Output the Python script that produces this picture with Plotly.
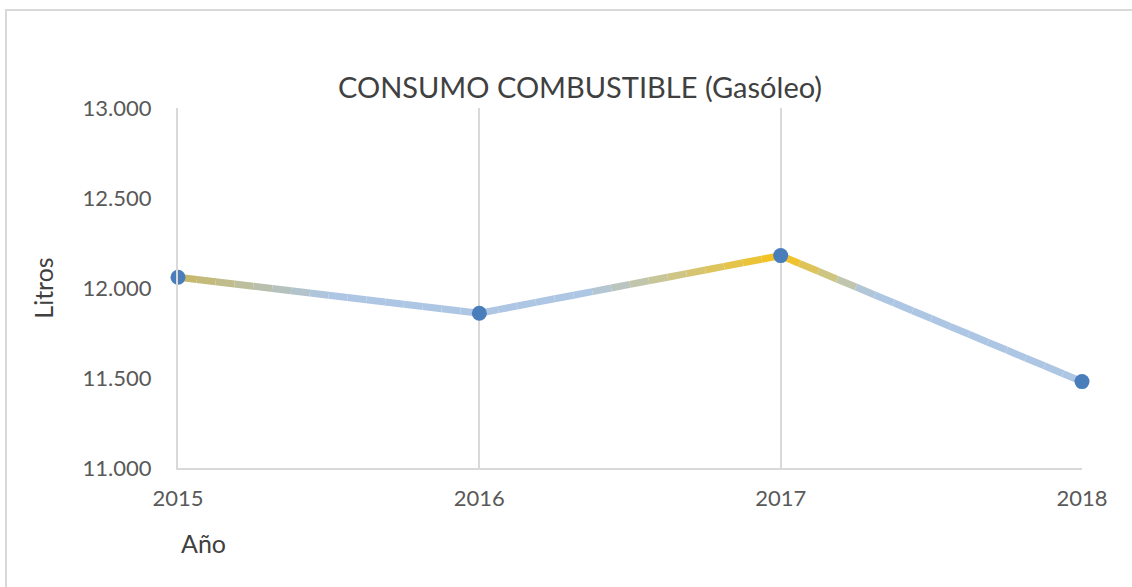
import plotly.graph_objects as go

years = [2015, 2016, 2017, 2018]
litros = [12060, 11860, 12180, 11480]
y_ticks = [11000, 11500, 12000, 12500, 13000]
title_text = "CONSUMO COMBUSTIBLE (Gasóleo)"
y_title = "Litros"
x_title = "Año"

# gradient colour stops along the line (position measured in segments)
stops = [(0.0, (200, 183, 100)), (0.5, (173, 198, 228)), (1.35, (173, 198, 228)),
         (2.0, (245, 195, 25)), (2.3, (173, 198, 228)), (3.0, (173, 198, 228))]


def color_at(s):
    for (s0, c0), (s1, c1) in zip(stops[:-1], stops[1:]):
        if s0 <= s <= s1:
            f = (s - s0) / (s1 - s0) if s1 > s0 else 0
            c = [round(a + (b - a) * f) for a, b in zip(c0, c1)]
            return f"rgb({c[0]},{c[1]},{c[2]})"
    c = stops[-1][1]
    return f"rgb({c[0]},{c[1]},{c[2]})"


fig = go.Figure()
n = 16
for i in range(len(years) - 1):
    x0, x1 = years[i], years[i + 1]
    y0, y1 = litros[i], litros[i + 1]
    for k in range(n):
        t0, t1 = k / n, (k + 1) / n
        fig.add_trace(go.Scatter(
            x=[x0 + (x1 - x0) * t0, x0 + (x1 - x0) * t1],
            y=[y0 + (y1 - y0) * t0, y0 + (y1 - y0) * t1],
            mode="lines",
            line=dict(color=color_at(i + (t0 + t1) / 2), width=7),
            cliponaxis=False,
            hoverinfo="skip", showlegend=False))

fig.add_trace(go.Scatter(
    x=years, y=litros, mode="markers",
    marker=dict(color="#4a7ebb", size=15),
    cliponaxis=False,
    showlegend=False))

font_family = "Lato, 'Open Sans', sans-serif"
# body margin removed below; plot area in screen px: x 178-1082, y 108-468
L, T = 178, 108
W, H = 904, 360
fig.update_layout(
    width=1132, height=587,
    margin=dict(l=L, r=1132 - L - W, t=T, b=587 - T - H),
    paper_bgcolor="white", plot_bgcolor="white",
    separators=",.",
    font=dict(family=font_family, color="#595959", size=22),
    title=dict(text=title_text, x=580 / 1132, xanchor="center",
               y=1 - 88 / 587, yanchor="middle",
               font=dict(size=29, color="#404040", family=font_family)),
    xaxis=dict(range=[2015, 2018], tickvals=years, ticktext=[str(y) for y in years],
               showgrid=True, gridcolor="#d9d9d9", gridwidth=2,
               showline=True, linecolor="#d9d9d9", linewidth=2,
               zeroline=False, ticks="outside", ticklen=10, tickcolor="rgba(0,0,0,0)",
               tickfont=dict(size=22, color="#595959")),
    yaxis=dict(range=[11000, 13000], tickvals=y_ticks, tickformat=",.0f",
               showgrid=False, showline=True, linecolor="#d9d9d9", linewidth=2,
               zeroline=False, ticks="outside", ticklen=20, tickcolor="rgba(0,0,0,0)",
               title=dict(text=y_title, font=dict(size=25, color="#404040"), standoff=22),
               tickfont=dict(size=22, color="#595959")),
    annotations=[dict(text=x_title, xref="paper", yref="paper",
                      x=(203 - L) / W, y=(T + H - 543) / H,
                      xanchor="center", yanchor="middle", showarrow=False,
                      font=dict(size=25, color="#404040"))],
    shapes=[dict(type="rect", xref="paper", yref="paper",
                 x0=(6 - L) / W, x1=(1150 - L) / W,
                 y0=(T + H - 620) / H, y1=(T + H - 10) / H,
                 line=dict(color="#d9d9d9", width=2), layer="below")],
)

fig.write_html("out.html", config={"displayModeBar": False},
               post_script="document.body.style.margin='0';document.body.style.overflow='hidden';")
